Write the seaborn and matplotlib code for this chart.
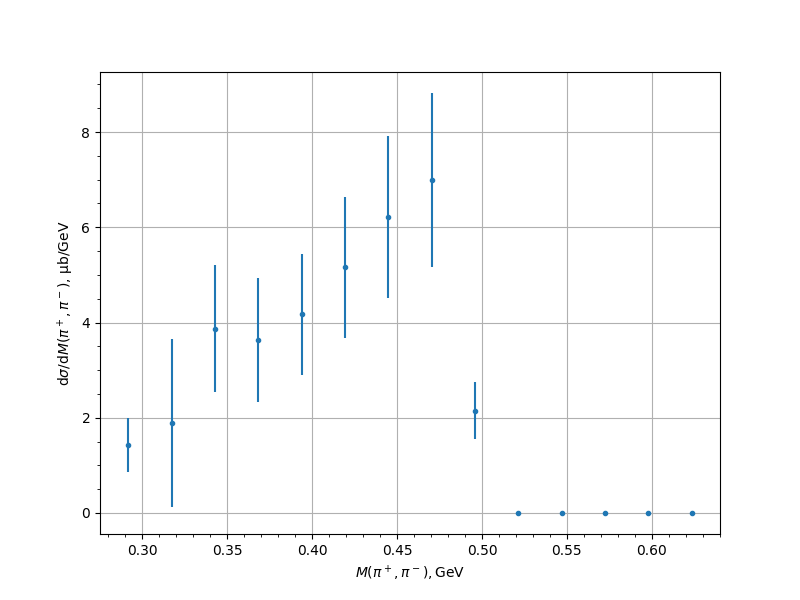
import numpy as np
import pandas as pd
import matplotlib
matplotlib.use('Agg')
import matplotlib.pyplot as plt
import seaborn as sns

mass = [0.2918, 0.3176, 0.3429, 0.3682, 0.3941, 0.4194, 0.4447,
        0.4706, 0.4959, 0.5212, 0.5471, 0.5724, 0.5976, 0.6235]
xsec = [1.43, 1.89, 3.87, 3.64, 4.17, 5.16, 6.22,
        6.99, 2.15, 0.0, 0.0, 0.0, 0.0, 0.0]
xsec_err = [0.57, 1.77, 1.33, 1.30, 1.27, 1.48, 1.70,
            1.83, 0.60, 0.0, 0.0, 0.0, 0.0, 0.0]

data = pd.DataFrame({'M': mass, 'xsec': xsec, 'err': xsec_err})

color = sns.color_palette('tab10')[0]

fig, ax = plt.subplots(figsize=(8, 6), dpi=100)
ax.errorbar(data['M'], data['xsec'], yerr=data['err'], fmt='.', color=color)
ax.minorticks_on()
ax.grid(True, which='major')
ax.set_xlabel(r'$M(\pi^+,\pi^-),$GeV')
ax.set_ylabel(r'd$\sigma$/d$M(\pi^+,\pi^-)$, µb/GeV')

plt.savefig('out.png', dpi=100)
